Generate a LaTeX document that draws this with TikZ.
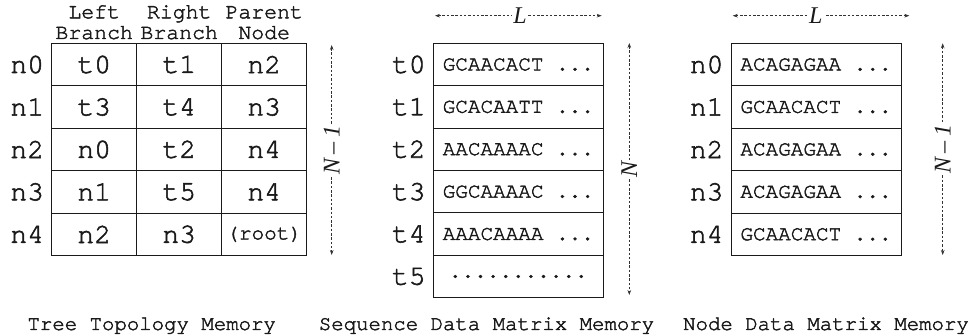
\documentclass[tikz,border=0pt]{standalone}
\usepackage{fontspec}
\setmainfont{Liberation Serif}
\newfontfamily\memfont[FakeBold=2]{TeX Gyre Cursor}
\usetikzlibrary{arrows.meta}
\definecolor{ink}{HTML}{1A1A1A}
\definecolor{dimc}{HTML}{333333}
\newcommand\rootsize{\fontsize{21}{21}\selectfont}
\newcommand\seqmore{...}
\newcommand\seqrest{...........}
\begin{document}
\begin{tikzpicture}[x=1pt,y=-1pt,
  every node/.style={inner sep=0pt, outer sep=0pt, text=ink},
  bigfont/.style={font=\memfont\fontsize{28}{28}\selectfont},
  headfont/.style={font=\memfont\fontsize{21.5}{21.5}\selectfont},
  capfont/.style={font=\memfont\fontsize{20.7}{20.7}\selectfont},
  seqfont/.style={font=\memfont\fontsize{21}{21}\selectfont},
  cell/.style={draw=ink, line width=1pt, minimum width=85pt, minimum height=42.45pt, bigfont},
  seqcell/.style={draw=ink, line width=1pt, minimum width=170pt, minimum height=42.4pt, seqfont},
  rowlab/.style={bigfont, anchor=east},
  headlab/.style={headfont, anchor=base},
  caption/.style={capfont, anchor=base},
  dimline/.style={draw=dimc, line width=0.6pt, dash pattern=on 2.5pt off 1.8pt,
    {Stealth[length=5pt,width=3.6pt]}-{Stealth[length=5pt,width=3.6pt]}},
  dimlab/.style={fill=white, inner sep=1.2pt, font=\itshape\fontsize{24}{24}\selectfont},
]
\useasboundingbox (0,0) rectangle (971,336);

% ---------------- tree topology table ----------------
\node[headlab] (h1a) at (94.2,18.3) {Left};
\node[headlab] (h1b) at (94.2,39)   {Branch};
\node[headlab] (h2a) at (179.2,18.3) {Right};
\node[headlab] (h2b) at (179.2,39)   {Branch};
\node[headlab] (h3a) at (264.2,18.3) {Parent};
\node[headlab] (h3b) at (264.2,39)   {Node};

\foreach \a/\b/\c [count=\i from 0] in
  {t0/t1/n2, t3/t4/n3, n0/t2/n4, n1/t5/n4, n2/n3/{\rootsize(root)}} {
  \pgfmathsetmacro\yy{64.55+\i*42.45}
  \node[rowlab] (tl-\i) at (44,\yy) {n\i};
  \node[cell] (tt-\i-1) at (94.2,\yy) {\a};
  \node[cell] (tt-\i-2) at (179.2,\yy) {\b};
  \node[cell] (tt-\i-3) at (264.2,\yy) {\c};
}

\coordinate (tdim-top) at (331.7,45);
\coordinate (tdim-bot) at (331.7,255);
\draw[dimline] (tdim-top) -- node[dimlab, rotate=90] {N\hspace{0.18em}\textendash\hspace{0.18em}1} (tdim-bot);

\node[caption] (cap-tree) at (151.7,330) {Tree Topology Memory};

% ---------------- sequence data matrix ----------------
\foreach \s [count=\i from 0] in
  {GCAACACT \seqmore, GCACAATT \seqmore, AACAAAAC \seqmore, GGCAAAAC \seqmore, AAACAAAA \seqmore, \seqrest} {
  \pgfmathsetmacro\yy{64.5+\i*42.4}
  \node[rowlab] (sl-\i) at (425.6,\yy) {t\i};
  \node[seqcell] (sq-\i) at (518.3,\yy) {\s};
}

\coordinate (sdimL-a) at (435,15.7);
\coordinate (sdimL-b) at (601.7,15.7);
\draw[dimline] (sdimL-a) -- node[dimlab, pos=0.51] {L} (sdimL-b);
\coordinate (sdimN-a) at (629.3,43);
\coordinate (sdimN-b) at (629.3,295);
\draw[dimline] (sdimN-a) -- node[dimlab, rotate=90, pos=0.5] {N} (sdimN-b);

\node[caption] (cap-seq) at (486.5,330) {Sequence Data Matrix Memory};

% ---------------- node data matrix ----------------
\foreach \s [count=\i from 0] in
  {ACAGAGAA \seqmore, GCAACACT \seqmore, ACAGAGAA \seqmore, ACAGAGAA \seqmore, GCAACACT \seqmore} {
  \pgfmathsetmacro\yy{64.55+\i*42.45}
  \node[rowlab] (nl-\i) at (723.4,\yy) {n\i};
  \node[seqcell, minimum height=42.45pt] (nd-\i) at (816,\yy) {\s};
}

\coordinate (ndimL-a) at (732.7,15.7);
\coordinate (ndimL-b) at (909.3,15.7);
\draw[dimline] (ndimL-a) -- node[dimlab, pos=0.47] {L} (ndimL-b);
\coordinate (ndimN-a) at (942.7,43.3);
\coordinate (ndimN-b) at (942.7,255);
\draw[dimline] (ndimN-a) -- node[dimlab, rotate=90] {N\hspace{0.18em}\textendash\hspace{0.18em}1} (ndimN-b);

\node[caption] (cap-node) at (826,330) {Node Data Matrix Memory};
\end{tikzpicture}
\end{document}
